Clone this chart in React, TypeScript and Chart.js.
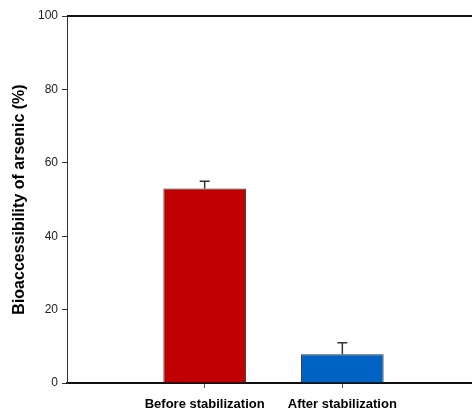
import React, { useEffect, useRef } from "react";
import { Chart, registerables } from "chart.js";

Chart.register(...registerables);

const categories = ["Before stabilization", "After stabilization"];
const positions = [1, 2];
const values = [53.0, 7.8];
const errors = [2.0, 3.2];
const barColors = ["#C00000", "#0062C2"];
const yTicks = [0, 20, 40, 60, 80, 100];
const yTitle = "Bioaccessibility of arsenic (%)";

const errorBarPlugin = {
  id: "errorBars",
  afterDatasetsDraw(chart: any) {
    const ctx = chart.ctx;
    const meta = chart.getDatasetMeta(0);
    const yScale = chart.scales.y;
    ctx.save();
    ctx.strokeStyle = "#333333";
    ctx.lineWidth = 1.5;
    meta.data.forEach((bar: any, i: number) => {
      const x = bar.x;
      const yTop = yScale.getPixelForValue(values[i] + errors[i]);
      const yBase = yScale.getPixelForValue(values[i]);
      const cap = bar.width * 0.06;
      ctx.beginPath();
      ctx.moveTo(x, yBase);
      ctx.lineTo(x, yTop);
      ctx.moveTo(x - cap, yTop);
      ctx.lineTo(x + cap, yTop);
      ctx.stroke();
    });
    ctx.restore();
  },
};

const framePlugin = {
  id: "frameTop",
  afterDraw(chart: any) {
    const { ctx, chartArea } = chart;
    ctx.save();
    ctx.strokeStyle = "#111111";
    ctx.lineWidth = 2;
    ctx.beginPath();
    ctx.moveTo(chartArea.left, chartArea.top);
    ctx.lineTo(chartArea.right, chartArea.top);
    ctx.stroke();
    ctx.restore();
  },
};

export default function App() {
  const ref = useRef<HTMLCanvasElement>(null);
  useEffect(() => {
    if (!ref.current) return;
    const chart = new Chart(ref.current, {
      type: "bar",
      data: {
        datasets: [
          {
            data: positions.map((p, i) => ({ x: p, y: values[i] })),
            backgroundColor: barColors,
            borderColor: "#333333",
            borderWidth: 1,
            barPercentage: 0.6,
            categoryPercentage: 1,
          },
        ],
      },
      options: {
        animation: false,
        responsive: false,
        layout: { padding: { top: 16, left: 0, right: 0, bottom: 0 } },
        plugins: { legend: { display: false }, tooltip: { enabled: false } },
        scales: {
          x: {
            type: "linear",
            min: 0,
            max: 3,
            offset: false,
            afterBuildTicks(scale: any) {
              scale.ticks = positions.map((p) => ({ value: p }));
            },
            afterFit(scale: any) {
              scale.height = 29;
            },
            ticks: {
              callback: (v: any) => {
                const idx = positions.indexOf(Number(v));
                return idx >= 0 ? categories[idx] : "";
              },
              color: "#000000",
              font: { family: "Liberation Sans, Arial", size: 13, weight: "bold" },
              padding: 9,
              maxRotation: 0,
              autoSkip: false,
            },
            grid: {
              display: true,
              offset: false,
              drawOnChartArea: false,
              drawTicks: true,
              tickLength: 5,
              color: "#555555",
            },
            border: { display: true, color: "#111111", width: 2 },
          },
          y: {
            min: 0,
            max: 100,
            afterBuildTicks(scale: any) {
              scale.ticks = yTicks.map((v) => ({ value: v }));
            },
            afterFit(scale: any) {
              scale.width = 67;
            },
            ticks: {
              color: "#222222",
              font: { family: "Liberation Sans, Arial", size: 12 },
              padding: 4,
            },
            grid: {
              display: true,
              drawOnChartArea: false,
              drawTicks: true,
              tickLength: 5,
              color: "#333333",
            },
            border: { display: true, color: "#333333", width: 1 },
            title: {
              display: true,
              text: yTitle,
              color: "#000000",
              font: { family: "Liberation Sans, Arial", size: 16, weight: "bold" },
              padding: { top: 10, bottom: 6 },
            },
          },
        },
      },
      plugins: [errorBarPlugin, framePlugin],
    });
    return () => chart.destroy();
  }, []);
  return (
    <div
      style={{
        position: "fixed",
        left: 0,
        top: 0,
        width: 472,
        height: 412,
        overflow: "hidden",
        background: "#ffffff",
      }}
    >
      <canvas ref={ref} width={480} height={412} style={{ width: 480, height: 412 }} />
    </div>
  );
}
